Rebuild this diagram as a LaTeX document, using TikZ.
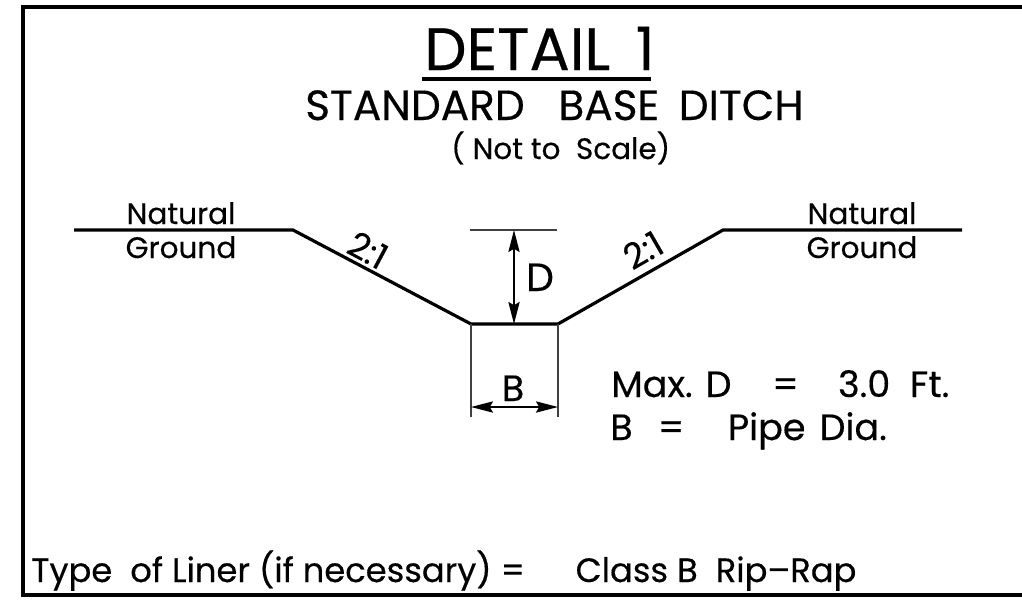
\documentclass[tikz,border=0pt]{standalone}
\usepackage{fontspec}
\usetikzlibrary{arrows.meta}
\setmainfont{Poppins}[FakeBold=0.4]
\tikzset{
  txt/.style={inner sep=0pt, anchor=base west},
  heavy/.style={line width=.08cm},
  thin line/.style={line width=.05cm, draw=black!75},
  dim/.style={line width=.05cm, {Stealth[length=.55cm,width=.28cm,inset=.08cm]}-{Stealth[length=.55cm,width=.28cm,inset=.08cm]}},
}
\newcommand{\fsz}[1]{\fontsize{#1pt}{#1pt}\selectfont}
\begin{document}
\begin{tikzpicture}[x=.025cm, y=-.025cm]

\useasboundingbox (0,0) rectangle (1022,600) ;

% frame
\coordinate (tr) at (1022,7) ;
\coordinate (tl) at (23,7) ;
\coordinate (bl) at (23,595) ;
\coordinate (br) at (1022,595) ;
\draw [heavy] (tr) to (tl) to (bl) to (br) ;

% headings
\node (detail) [txt] at (424,70) {\fsz{42.5}DETAIL\hspace{18pt}1} ;
\coordinate (ula) at (422,79) ;
\coordinate (ulb) at (651,79) ;
\draw [heavy] (ula) to (ulb) ;
\node (standard) [txt] at (305,120) {\fsz{30}STANDARD\hspace{24pt}BASE\hspace{14pt}DITCH} ;
\node (scale) [txt] at (451,159) {\fsz{21}( Not to\hspace{11pt}Scale)} ;

% ground and ditch
\coordinate (gla) at (74,230) ;
\coordinate (glb) at (293,230) ;
\coordinate (bl1) at (471,324) ;
\coordinate (br1) at (558,324) ;
\coordinate (grb) at (723,230) ;
\coordinate (gra) at (962,230) ;
\draw [heavy] (gla) to (glb) to (bl1) to (br1) to (grb) to (gra) ;

\node (natl) [txt, anchor=base] at (181,224) {\fsz{21}Natural} ;
\node (grdl) [txt, anchor=base] at (181,258) {\fsz{21}Ground} ;
\node (natr) [txt, anchor=base] at (862,224) {\fsz{21}Natural} ;
\node (grdr) [txt, anchor=base] at (862,258) {\fsz{21}Ground} ;

\node (slopel) [txt, anchor=center, rotate=-28] at (368,250) {\fsz{25}2:1} ;
\node (sloper) [txt, anchor=center, rotate=30] at (643,250) {\fsz{25}2:1} ;

% dimensions
\coordinate (dl) at (470,230) ;
\coordinate (dr) at (557,230) ;
\coordinate (da) at (514,230) ;
\coordinate (db) at (514,324) ;
\draw [thin line] (dl) to (dr) ;
\draw [dim] (da) to (db) ;
\node (d) [txt, anchor=base] at (540,291) {\fsz{28}D} ;

\coordinate (bla) at (471,417) ;
\coordinate (bra) at (558,417) ;
\draw [thin line] (bl1) to (bla) ;
\draw [thin line] (br1) to (bra) ;
\coordinate (ba) at (471,407) ;
\coordinate (bb) at (558,407) ;
\draw [dim] (ba) to (bb) ;
\node (b) [txt, anchor=base] at (513,401) {\fsz{26}B} ;

% notes
\node (maxd) [txt] at (611,397) {\fsz{26}Max. D\hspace{29pt}=\hspace{28pt}3.0\hspace{14pt}Ft.} ;
\node (bdia) [txt] at (610,440) {\fsz{26}B\hspace{18pt}=\hspace{31pt}Pipe\hspace{10pt}Dia.} ;
\node (liner) [txt] at (31,582) {\fsz{24}Type\ \ of Liner (if necessary) =\hspace{36pt}Class B\ \ Rip--Rap} ;

\end{tikzpicture}
\end{document}
